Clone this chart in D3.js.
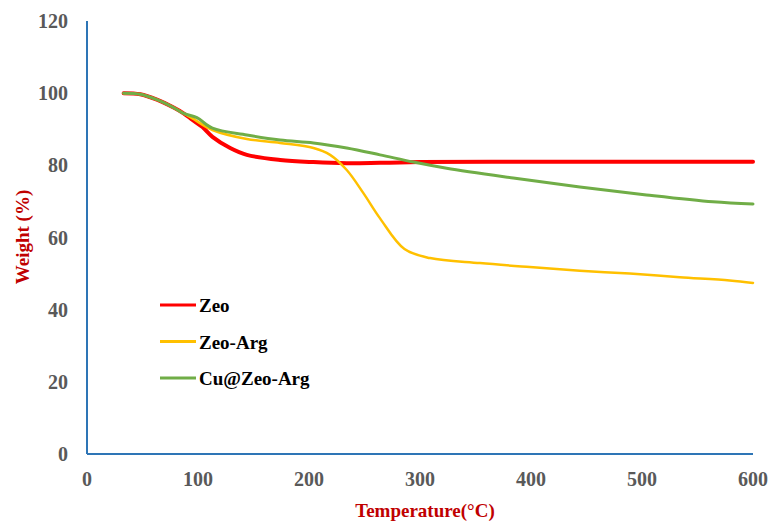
<!DOCTYPE html>
<html>
<head>
<meta charset="utf-8">
<script src="https://cdn.jsdelivr.net/npm/d3@7"></script>
<style>
body { margin: 0; background: #fff; }
svg { font-family: "Liberation Serif", "Times New Roman", serif; }
</style>
</head>
<body>
<script>
// TGA data
var temps = [33, 48, 63, 78, 87, 95, 104, 113, 129, 144, 174, 204, 234, 264, 300, 400, 500, 600];
var zeo   = [100, 99.7, 98.2, 96.0, 94.4, 92.6, 90.6, 87.9, 84.8, 82.9, 81.5, 80.9, 80.6, 80.7, 80.9, 81.0, 81.0, 81.0];

var tempsArg = [33, 48, 63, 78, 87, 95, 113, 144, 174, 204, 219, 234, 249, 264, 286, 309, 354, 399, 444, 489, 534, 579, 600];
var zeoArg   = [100, 99.7, 98.2, 96.0, 94.4, 93.0, 89.8, 87.3, 86.2, 84.8, 82.9, 78.7, 72.3, 65.3, 56.8, 54.3, 52.9, 51.8, 50.8, 50.0, 49.0, 48.1, 47.4];

var tempsCu = [33, 48, 63, 78, 87, 99, 113, 144, 174, 204, 234, 264, 294, 324, 384, 444, 504, 564, 600];
var cuZeoArg = [100, 99.7, 98.2, 96.0, 94.4, 93.2, 90.3, 88.4, 87.0, 86.2, 84.8, 82.9, 80.9, 79.2, 76.5, 74.0, 71.8, 69.9, 69.3];

var xTicks = [0, 100, 200, 300, 400, 500, 600];
var yTicks = [0, 20, 40, 60, 80, 100, 120];

var series = [
    {name: "Zeo", x: temps, y: zeo, color: "#ff0000", width: 4},
    {name: "Zeo-Arg", x: tempsArg, y: zeoArg, color: "#ffc000", width: 2.5},
    {name: "Cu@Zeo-Arg", x: tempsCu, y: cuZeoArg, color: "#70ad47", width: 3}
];

var svg = d3.select("body").append("svg")
    .attr("width", 771)
    .attr("height", 522);

var x = d3.scaleLinear().domain([0, 600]).range([87, 753]);
var y = d3.scaleLinear().domain([0, 120]).range([454, 21]);

// axis lines
svg.append("line")
    .attr("x1", x(0)).attr("x2", x(0))
    .attr("y1", y(120)).attr("y2", y(0))
    .attr("stroke", "#2e75b6").attr("stroke-width", 2);
svg.append("line")
    .attr("x1", x(0)).attr("x2", x(600))
    .attr("y1", y(0)).attr("y2", y(0))
    .attr("stroke", "#2e75b6").attr("stroke-width", 2);

// tick labels
svg.selectAll(".ylab").data(yTicks).enter().append("text")
    .attr("x", 68)
    .attr("y", function(d){ return y(d) + 7; })
    .attr("text-anchor", "end")
    .attr("font-size", 20).attr("font-weight", "bold")
    .attr("fill", "#595959")
    .text(function(d){ return d; });

svg.selectAll(".xlab").data(xTicks).enter().append("text")
    .attr("x", function(d){ return x(d); })
    .attr("y", 486)
    .attr("text-anchor", "middle")
    .attr("font-size", 20).attr("font-weight", "bold")
    .attr("fill", "#595959")
    .text(function(d){ return d; });

// axis titles
svg.append("text")
    .attr("x", 425).attr("y", 517)
    .attr("text-anchor", "middle")
    .attr("font-size", 19).attr("font-weight", "bold")
    .attr("fill", "#c00000")
    .text("Temperature(°C)");

svg.append("text")
    .attr("transform", "translate(29,237) rotate(-90)")
    .attr("text-anchor", "middle")
    .attr("font-size", 19).attr("font-weight", "bold")
    .attr("fill", "#c00000")
    .text("Weight (%)");

var line = d3.line()
    .x(function(d){ return x(d[0]); })
    .y(function(d){ return y(d[1]); })
    .curve(d3.curveCatmullRom.alpha(0.5));

series.forEach(function(s){
    var pts = s.x.map(function(t, i){ return [t, s.y[i]]; });
    svg.append("path")
        .attr("d", line(pts))
        .attr("fill", "none")
        .attr("stroke", s.color)
        .attr("stroke-width", s.width)
        .attr("stroke-linecap", "round");
});

// legend
var legend = svg.append("g");
series.forEach(function(s, i){
    var ly = 305 + i * 36.5;
    legend.append("line")
        .attr("x1", 160).attr("x2", 196)
        .attr("y1", ly).attr("y2", ly)
        .attr("stroke", s.color).attr("stroke-width", 3);
    legend.append("text")
        .attr("x", 199).attr("y", ly + 7)
        .attr("font-size", 19).attr("font-weight", "bold")
        .attr("fill", "#000")
        .text(s.name);
});
</script>
</body>
</html>
